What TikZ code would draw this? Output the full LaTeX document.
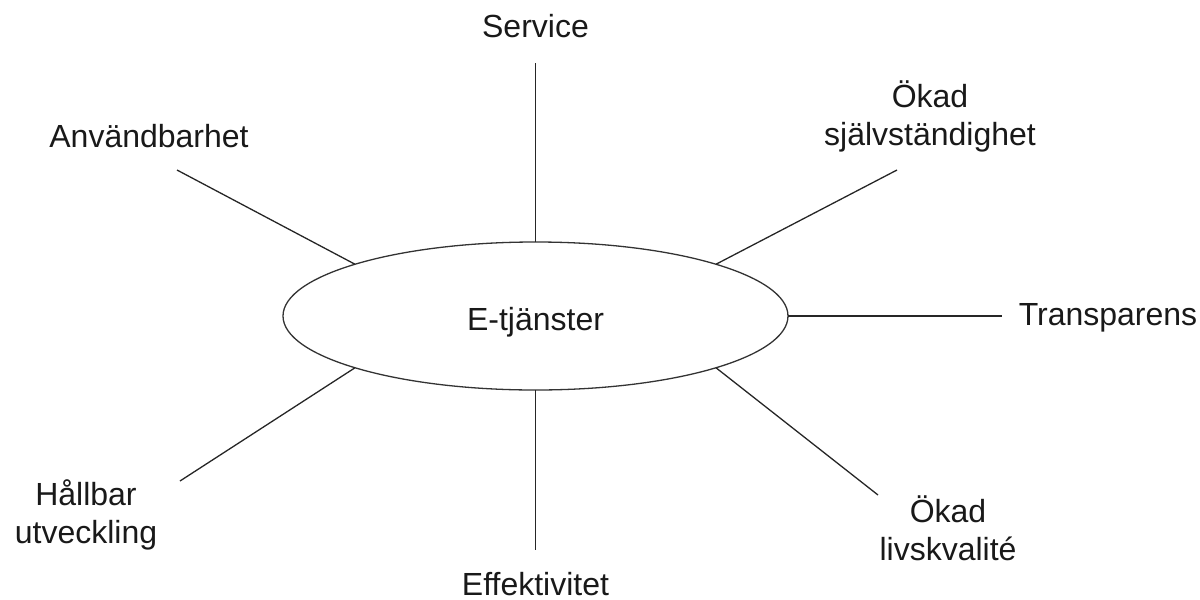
\documentclass[tikz,border=0pt]{standalone}
\usepackage{fontspec}
\setmainfont{Liberation Sans}
\usetikzlibrary{shapes.geometric}
\begin{document}
\begin{tikzpicture}[x=1pt,y=-1pt,
  lbl/.style={font=\fontsize{32}{38}\selectfont, align=center, inner sep=0pt, anchor=base, text=black!90},
  conn/.style={line width=1.3pt, draw=black!85},
  hub/.style={ellipse, draw=black!80, line width=1.3pt, minimum width=505pt, minimum height=148pt, inner sep=0pt, outer sep=0pt}]
\useasboundingbox (0,0) rectangle (1200,600);
% central ellipse
\node[hub] (E) at (535.5,316) {};
\node[lbl] (Etxt) at (535.5,330) {E-tjänster};
% labels (anchor base = baseline of last line)
\node[lbl] (service) at (535.5,37) {Service};
\node[lbl] (anv) at (149,147) {Användbarhet};
\node[lbl] (sjalv) at (930,145) {Ökad\\självständighet};
\node[lbl] (transp) at (1108,325) {Transparens};
\node[lbl] (liv) at (948,560) {Ökad\\livskvalité};
\node[lbl] (effekt) at (535.5,595) {Effektivitet};
\node[lbl] (hallbar) at (86,543) {Hållbar\\utveckling};
% free ends of connectors
\coordinate (cService) at (535.5,63);
\coordinate (cAnv) at (177,170);
\coordinate (cSjalv) at (897,170);
\coordinate (cTransp) at (1002,316);
\coordinate (cLiv) at (878,495);
\coordinate (cEffekt) at (535.5,550);
\coordinate (cHall) at (180,481);
% connectors
\draw[conn] (E.90) -- (cService);
\draw[conn] (E.164) -- (cAnv);
\draw[conn] (E.16) -- (cSjalv);
\draw[conn] (E.0) -- (cTransp);
\draw[conn] (E.344) -- (cLiv);
\draw[conn] (E.270) -- (cEffekt);
\draw[conn] (E.196) -- (cHall);
\end{tikzpicture}
\end{document}
